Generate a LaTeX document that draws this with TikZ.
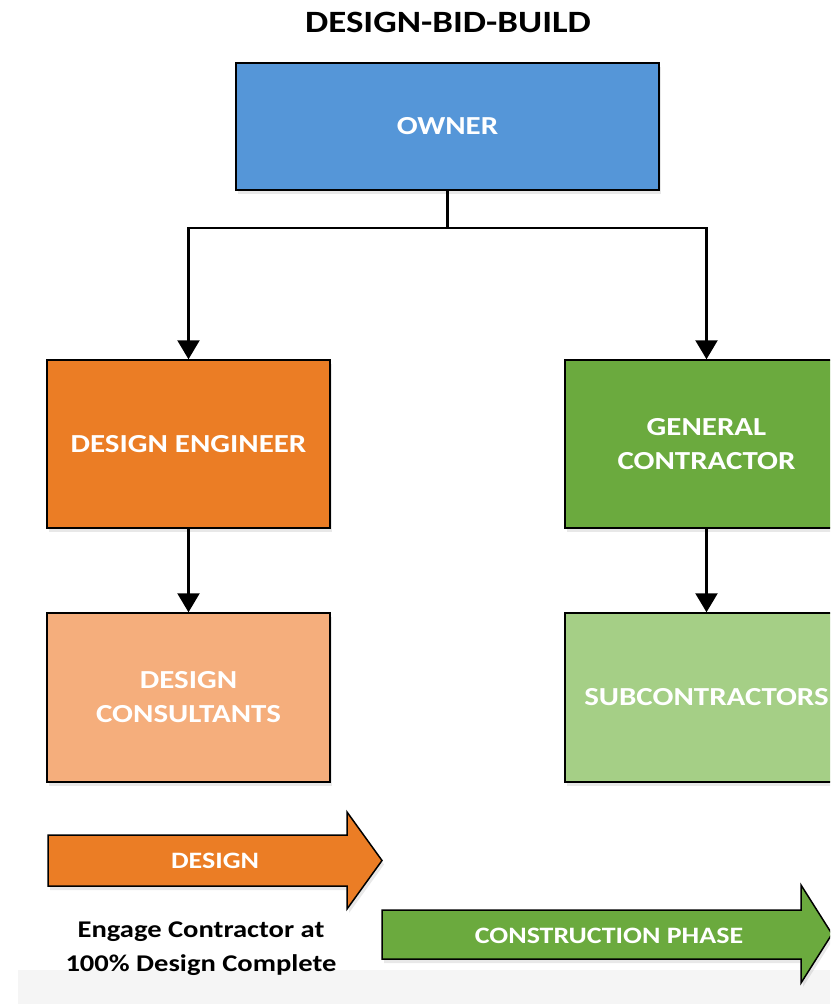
\documentclass[tikz,border=0pt]{standalone}
\usepackage{fontspec}
\setmainfont{Carlito}[FakeStretch=1.19]
\usetikzlibrary{arrows.meta,shadows}

\definecolor{ownerblue}{HTML}{5596D8}
\definecolor{engorange}{HTML}{EB7D25}
\definecolor{consorange}{HTML}{F5AE7C}
\definecolor{gcgreen}{HTML}{6BAA3E}
\definecolor{subgreen}{HTML}{A5CF86}
\definecolor{bandgrey}{HTML}{F5F5F5}

\tikzset{
  box/.style={draw=black, line width=1.5pt, rectangle, inner sep=0pt,
    minimum width=283pt, minimum height=168pt, text=white, align=center,
    font=\bfseries\fontsize{26}{34}\selectfont,
    drop shadow={opacity=0.18, shadow xshift=2pt, shadow yshift=-4pt}},
  conn/.style={draw=black, line width=2.5pt,
    -{Triangle[length=19pt, width=22pt]}},
  phase/.style={draw=black, line width=1.5pt,
    drop shadow={opacity=0.18, shadow xshift=2pt, shadow yshift=-4pt}},
  phaselabel/.style={text=white, font=\bfseries\fontsize{23.5}{28}\selectfont},
  note/.style={text=black, align=center, font=\bfseries\fontsize{24}{34}\selectfont}
}

\begin{document}
\begin{tikzpicture}[x=1pt, y=-1pt]
  \useasboundingbox (0,0) rectangle (830,1004);
  \clip (0,0) rectangle (830,1004);
  \fill[white] (0,0) rectangle (830,1004);

  % pale strip along the bottom edge
  \fill[bandgrey] (18,970) rectangle (830,1004);

  % title
  \node[font=\bfseries\fontsize{31}{36}\selectfont] (title) at (448,22) {DESIGN-BID-BUILD};

  % organisation boxes
  \node[box, fill=ownerblue, minimum width=423pt, minimum height=127pt] (owner) at (447.5,126.5) {OWNER};
  \node[box, fill=engorange] (de) at (188.5,444) {DESIGN ENGINEER};
  \node[box, fill=gcgreen] (gc) at (706.5,444) {GENERAL\\CONTRACTOR};
  \node[box, fill=consorange, minimum height=169pt] (dc) at (188.5,697.5) {DESIGN\\CONSULTANTS};
  \node[box, fill=subgreen, minimum height=169pt] (sc) at (706.5,697.5) {SUBCONTRACTORS};

  % reporting lines
  \coordinate (split) at (447.5,228);
  \draw[line width=2.5pt] (owner.south) -- (split);
  \draw[conn] (split) -| (de.north);
  \draw[conn] (split) -| (gc.north);
  \draw[conn] (de.south) -- (dc.north);
  \draw[conn] (gc.south) -- (sc.north);

  % phase arrows
  \filldraw[phase, fill=engorange]
    (48,835) -- (347,835) -- (347,812) -- (382,860.5) -- (347,909) -- (347,886) -- (48,886) -- cycle;
  \node[phaselabel] (design) at (215,861) {DESIGN};

  \filldraw[phase, fill=gcgreen]
    (382,910) -- (801,910) -- (801,885) -- (832,934) -- (801,983) -- (801,959) -- (382,959) -- cycle;
  \node[phaselabel] (construction) at (609,936) {CONSTRUCTION PHASE};

  % note under the design arrow
  \node[note] (engage) at (201,949) {Engage Contractor at\\100\% Design Complete};
\end{tikzpicture}
\end{document}
